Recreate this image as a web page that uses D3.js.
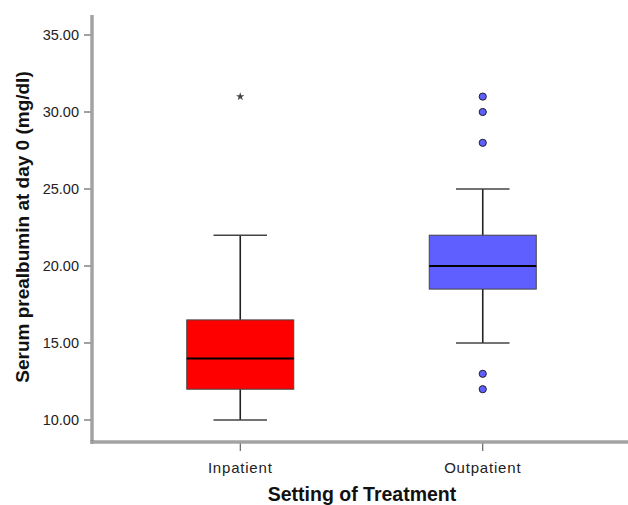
<!DOCTYPE html>
<html>
<head>
<meta charset="utf-8">
<script src="https://cdn.jsdelivr.net/npm/d3@7"></script>
<style>
  body { margin: 0; background: #fff; }
  text { font-family: Arial, "Liberation Sans", sans-serif; }
</style>
</head>
<body>
<svg id="chart" width="628" height="505"></svg>
<script>
// box summaries
var groups = ["Inpatient", "Outpatient"];
var whiskerLow = [10, 15];
var q1 = [12, 18.5];
var median = [14, 20];
var q3 = [16.5, 22];
var whiskerHigh = [22, 25];
var colors = ["#ff0000", "#5f5fff"];
// outliers: stars are extremes, circles are mild outliers
var extremes = [[31], []];
var outliers = [[], [31, 30, 28, 13, 12]];
var yTicks = [10, 15, 20, 25, 30, 35];

var svg = d3.select("#chart");

var axisX = 92, axisBottom = 442, axisTop = 15;

var y = d3.scaleLinear()
  .domain([10, 35])
  .range([420, 35]);

var x = d3.scaleBand()
  .domain(groups)
  .range([119, 604])
  .paddingInner(0.56)
  .paddingOuter(0.28);

var boxW = 107;

// axis lines (double grey look)
function dblLine(x1, y1, x2, y2) {
  svg.append("line").attr("x1", x1).attr("y1", y1).attr("x2", x2).attr("y2", y2)
    .style("stroke", "#777").style("stroke-width", 3);
  svg.append("line").attr("x1", x1).attr("y1", y1).attr("x2", x2).attr("y2", y2)
    .style("stroke", "#d0d0d0").style("stroke-width", 1);
}
dblLine(axisX, axisTop, axisX, axisBottom + 1.5);
dblLine(axisX - 1.5, axisBottom, 628, axisBottom);

// y ticks
var yAxis = svg.append("g");
yAxis.selectAll("line")
  .data(yTicks)
  .enter()
  .append("line")
  .attr("x1", axisX - 8)
  .attr("x2", axisX - 1.5)
  .attr("y1", function(d) { return y(d); })
  .attr("y2", function(d) { return y(d); })
  .style("stroke", "#444")
  .style("stroke-width", 1);
yAxis.selectAll("text")
  .data(yTicks)
  .enter()
  .append("text")
  .attr("x", 79)
  .attr("y", function(d) { return y(d); })
  .attr("dy", "0.36em")
  .attr("text-anchor", "end")
  .style("font-size", "14.5px")
  .style("fill", "#222")
  .text(function(d) { return d3.format(".2f")(d); });

// x ticks
var xAxis = svg.append("g");
xAxis.selectAll("line")
  .data(groups)
  .enter()
  .append("line")
  .attr("x1", function(d) { return x(d) + x.bandwidth() / 2; })
  .attr("x2", function(d) { return x(d) + x.bandwidth() / 2; })
  .attr("y1", axisBottom + 1.5)
  .attr("y2", axisBottom + 9)
  .style("stroke", "#444")
  .style("stroke-width", 1);
xAxis.selectAll("text")
  .data(groups)
  .enter()
  .append("text")
  .attr("x", function(d) { return x(d) + x.bandwidth() / 2; })
  .attr("y", 473)
  .attr("text-anchor", "middle")
  .style("font-size", "15px")
  .style("fill", "#222")
  .style("letter-spacing", "0.8px")
  .text(function(d) { return d; });

// axis titles
svg.append("text")
  .attr("x", 362)
  .attr("y", 501)
  .attr("text-anchor", "middle")
  .style("font-size", "19.5px")
  .style("font-weight", "bold")
  .style("fill", "#111")
  .text("Setting of Treatment");

svg.append("text")
  .attr("transform", "translate(29,227) rotate(-90)")
  .attr("text-anchor", "middle")
  .style("font-size", "19px")
  .style("font-weight", "bold")
  .style("fill", "#111")
  .text("Serum prealbumin at day 0 (mg/dl)");

// boxes
var box = svg.selectAll(".box")
  .data(groups)
  .enter()
  .append("g")
  .attr("class", "box");

function cx(i) { return x(groups[i]) + x.bandwidth() / 2; }

box.each(function(d, i) {
  var g = d3.select(this);
  var c = cx(i);
  // whisker stems
  g.append("line").attr("x1", c).attr("x2", c)
    .attr("y1", y(whiskerHigh[i])).attr("y2", y(q3[i]))
    .style("stroke", "#222").style("stroke-width", 1.6);
  g.append("line").attr("x1", c).attr("x2", c)
    .attr("y1", y(q1[i])).attr("y2", y(whiskerLow[i]))
    .style("stroke", "#222").style("stroke-width", 1.6);
  // caps
  [whiskerHigh[i], whiskerLow[i]].forEach(function(v) {
    g.append("line").attr("x1", c - boxW / 4).attr("x2", c + boxW / 4)
      .attr("y1", y(v)).attr("y2", y(v))
      .style("stroke", "#444").style("stroke-width", 1.6);
  });
  g.append("rect")
    .attr("x", c - boxW / 2)
    .attr("y", y(q3[i]))
    .attr("width", boxW)
    .attr("height", y(q1[i]) - y(q3[i]))
    .attr("fill", colors[i])
    .style("stroke", "#444")
    .style("stroke-width", 1);
  g.append("line").attr("x1", c - boxW / 2).attr("x2", c + boxW / 2)
    .attr("y1", y(median[i])).attr("y2", y(median[i]))
    .style("stroke", "#000").style("stroke-width", 2);

  g.selectAll("circle")
    .data(outliers[i])
    .enter()
    .append("circle")
    .attr("cx", c)
    .attr("cy", function(v) { return y(v); })
    .attr("r", 3.6)
    .attr("fill", colors[i])
    .style("stroke", "#222")
    .style("stroke-width", 1);

  g.selectAll("path")
    .data(extremes[i])
    .enter()
    .append("path")
    .attr("d", d3.symbol().type(d3.symbolStar).size(22))
    .attr("transform", function(v) { return "translate(" + c + "," + y(v) + ")"; })
    .attr("fill", "#444");
});
</script>
</body>
</html>
